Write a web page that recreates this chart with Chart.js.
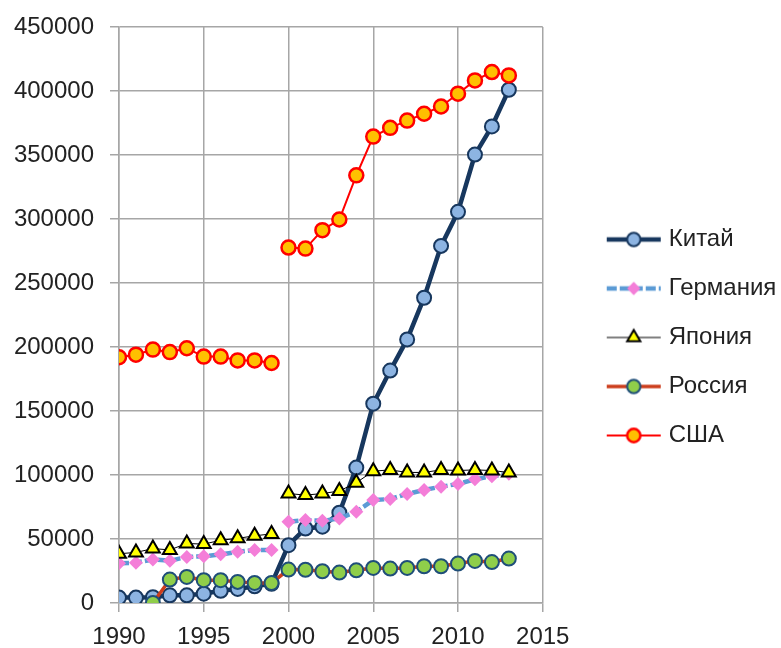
<!DOCTYPE html>
<html>
<head>
<meta charset="utf-8">
<script src="https://cdn.jsdelivr.net/npm/chart.js@4/dist/chart.umd.min.js"></script>
<style>
  html, body { margin: 0; padding: 0; background: #ffffff; }
  #wrap { width: 781px; height: 648px; position: relative; }
</style>
</head>
<body>
<div id="wrap"><canvas id="c" width="781" height="648"></canvas></div>
<script>
const years = [1990,1991,1992,1993,1994,1995,1996,1997,1998,1999,2000,2001,2002,2003,2004,2005,2006,2007,2008,2009,2010,2011,2012,2013];
const seriesNames = ["Китай", "Германия", "Япония", "Россия", "США"];
const china   = [4200,4200,4500,6000,6000,7300,9500,11000,13000,15000,45200,58200,59600,70500,105800,155700,181600,205900,238500,279000,305600,350300,372300,401000];
const germany = [31000,31500,34000,33000,36000,36500,38000,40000,41500,41500,63500,64800,64200,66100,71300,80500,81200,85200,88300,90900,93000,96600,99000,101000];
const japan   = [38500,39500,42500,41500,46500,46000,49000,50500,52500,54000,85500,84300,85500,87500,94000,103000,104000,102000,102000,104000,103500,104000,103500,102000];
const russia  = [null,null,0,18300,20400,17800,17800,16500,15700,15700,26100,26000,24800,23800,25500,27400,26900,27400,28700,28700,30800,32900,32000,34700];
const usa     = [192000,194000,198000,196000,199000,192500,192500,189500,189500,187500,277700,276900,291300,299600,334100,364400,371200,376900,382200,387900,397900,408300,414800,412200];
const yTicks = [0,50000,100000,150000,200000,250000,300000,350000,400000,450000];
const xTicks = [1990,1995,2000,2005,2010,2015];

const FONT = "'Liberation Sans', Arial, sans-serif";

function pts(arr) { return years.map((x, i) => ({ x: x, y: arr[i] })); }

const styles = [
  { line: '#17375E', width: 4.5, dash: [], pointStyle: 'circle', radius: 7, fill: '#8DB4E2', border: '#17375E', bw: 2, gap: false, order: 4 },
  { line: '#5B9BD5', width: 4.5, dash: [10, 3], pointStyle: 'rectRot', radius: 7, fill: '#F47ED8', border: '#F47ED8', bw: 0, gap: true, order: 3 },
  { line: '#000000', width: 1, dash: [], pointStyle: 'triangle', radius: 8, fill: '#FFFF00', border: '#000000', bw: 2, gap: true, order: 2 },
  { line: '#CC3D1C', width: 3.5, dash: [], pointStyle: 'circle', radius: 7, fill: '#8FCE4A', border: '#1F4E79', bw: 2, gap: false, order: 1 },
  { line: '#FF0000', width: 2, dash: [], pointStyle: 'circle', radius: 7, fill: '#FFC000', border: '#FF0000', bw: 2.5, gap: true, order: 0 }
];
const values = [china, germany, japan, russia, usa];

const datasets = values.map((arr, i) => {
  const s = styles[i];
  return {
    label: seriesNames[i],
    data: pts(arr),
    borderColor: s.line,
    borderWidth: s.width,
    borderDash: s.dash,
    pointStyle: s.pointStyle,
    pointRadius: s.radius,
    pointBackgroundColor: s.fill,
    pointBorderColor: s.border,
    pointBorderWidth: s.bw,
    pointHoverRadius: s.radius,
    tension: 0,
    fill: false,
    spanGaps: false,
    order: s.order,
    segment: s.gap ? {
      borderColor: ctx => (ctx.p0.parsed.x === 1999 ? 'rgba(0,0,0,0)' : undefined)
    } : {}
  };
});

function legendImage(s) {
  const c = document.createElement('canvas');
  c.width = 56; c.height = 24;
  const g = c.getContext('2d');
  g.strokeStyle = s.line;
  g.lineWidth = s.width;
  g.setLineDash(s.dash);
  g.beginPath(); g.moveTo(1, 12); g.lineTo(55, 12); g.stroke();
  g.setLineDash([]);
  g.fillStyle = s.fill;
  g.strokeStyle = s.border;
  g.lineWidth = s.bw;
  g.beginPath();
  const r = s.radius * 0.95;
  if (s.pointStyle === 'circle') {
    g.arc(28, 12, r, 0, Math.PI * 2);
  } else if (s.pointStyle === 'rectRot') {
    g.moveTo(28, 12 - r); g.lineTo(28 + r, 12); g.lineTo(28, 12 + r); g.lineTo(28 - r, 12); g.closePath();
  } else {
    const side = r * 3 / Math.sqrt(3), h = side * Math.sqrt(3) / 2;
    g.moveTo(28, 12 - r); g.lineTo(28 + side / 2, 12 - r + h); g.lineTo(28 - side / 2, 12 - r + h); g.closePath();
  }
  g.fill();
  if (s.bw > 0) g.stroke();
  return c;
}

const legendImgs = styles.map(legendImage);

// widen the gap between plot area and legend
const LEGEND_GAP = 43;
const legendGapPlugin = {
  id: 'legendGap',
  afterInit(chart) {
    const lg = chart.legend;
    if (!lg) return;
    const orig = lg.fit.bind(lg);
    lg.fit = function () { orig(); this.width += LEGEND_GAP; };
  },
  afterLayout(chart) {
    const lg = chart.legend;
    if (lg) { lg.left += LEGEND_GAP; }
  }
};

new Chart(document.getElementById('c'), {
  type: 'line',
  data: { datasets: datasets },
  plugins: [legendGapPlugin],
  options: {
    responsive: false,
    animation: false,
    layout: { padding: { top: 27, right: 0, left: 0, bottom: 0 } },
    scales: {
      x: {
        type: 'linear',
        min: 1990, max: 2015,
        afterBuildTicks: axis => { axis.ticks = xTicks.map(v => ({ value: v })); },
        afterFit: s => { s.height = 45; },
        ticks: { color: '#222', font: { family: FONT, size: 24 }, padding: 11, maxRotation: 0, callback: v => String(v) },
        grid: { color: '#A6A6A6', lineWidth: 1.5, tickLength: 9, drawTicks: true },
        border: { color: '#A6A6A6', width: 1.5 }
      },
      y: {
        min: 0, max: 450000,
        afterBuildTicks: axis => { axis.ticks = yTicks.map(v => ({ value: v })); },
        afterFit: s => { s.width = 119; s.paddingTop = 0; s.paddingBottom = 0; },
        ticks: { color: '#222', font: { family: FONT, size: 24, lineHeight: 1 }, padding: 16, callback: v => String(v) },
        grid: { color: '#A6A6A6', lineWidth: 1.5, tickLength: 9, drawTicks: true },
        border: { color: '#A6A6A6', width: 1.5 }
      }
    },
    plugins: {
      tooltip: { enabled: false },
      legend: {
        position: 'right',
        align: 'center',
        labels: {
          color: '#222',
          font: { family: FONT, size: 24 },
          usePointStyle: true,
          pointStyleWidth: 46,
          padding: 25,
          generateLabels: chart => seriesNames.map((name, i) => ({
            text: name,
            pointStyle: legendImgs[i],
            datasetIndex: i,
            hidden: false,
            lineWidth: 0,
            strokeStyle: 'rgba(0,0,0,0)',
            fillStyle: 'rgba(0,0,0,0)',
            fontColor: '#222'
          }))
        }
      }
    }
  }
});
</script>
</body>
</html>
